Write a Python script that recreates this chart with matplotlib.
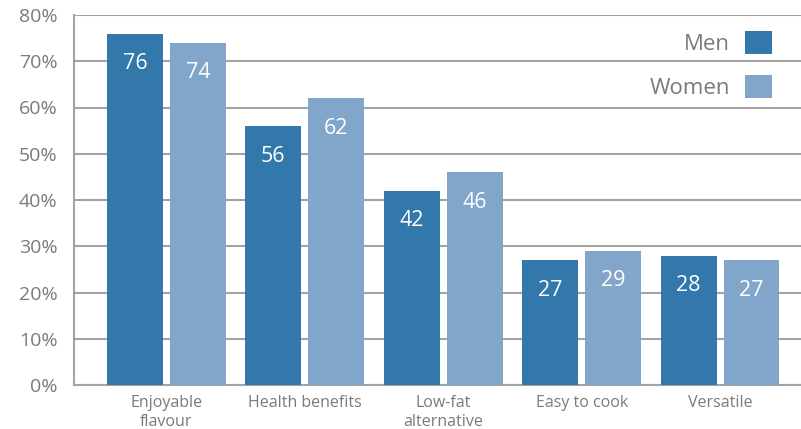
import matplotlib
matplotlib.use("Agg")
import matplotlib.pyplot as plt
import numpy as np

plt.rcParams['font.family'] = ['Open Sans', 'DejaVu Sans']

categories = ["Enjoyable\nflavour", "Health benefits", "Low-fat\nalternative", "Easy to cook", "Versatile"]
men = [76, 56, 42, 27, 28]
women = [74, 62, 46, 29, 27]
yticks = [0, 10, 20, 30, 40, 50, 60, 70, 80]

men_color = "#3378AB"
women_color = "#82A5CA"
grid_color = "#A3A3A3"
text_color = "#7A7A7A"

fig = plt.figure(figsize=(8.01, 4.29), dpi=100)
ax = fig.add_axes([74 / 801, 1 - 385 / 429, 1 - 74 / 801, (385 - 15) / 429])

x = np.arange(len(categories))
width = 0.404
offset = 0.2274

b1 = ax.bar(x - offset, men, width, color=men_color, label="Men", zorder=3)
b2 = ax.bar(x + offset, women, width, color=women_color, label="Women", zorder=3)

for bars, vals in ((b1, men), (b2, women)):
    for rect, v in zip(bars, vals):
        ax.annotate(f"{v}", (rect.get_x() + rect.get_width() / 2, v),
                    xytext=(0, -30), textcoords="offset pixels",
                    ha="center", va="center", color="white", fontsize=15.5, zorder=4)

ax.set_xlim(-0.668, 4.585)
ax.set_ylim(0, 80)
ax.set_yticks(yticks)
ax.set_yticklabels([f"{t}%" for t in yticks], fontsize=14, color=text_color)
ax.set_xticks(x)
ax.set_xticklabels(categories, fontsize=11.5, color=text_color, linespacing=1.3)
ax.tick_params(axis="both", length=0)
ax.tick_params(axis="y", pad=12)
ax.tick_params(axis="x", pad=7)

ax.yaxis.grid(True, color=grid_color, linewidth=1.5, zorder=0)
for side in ("top", "right"):
    ax.spines[side].set_visible(False)
for side in ("left", "bottom"):
    ax.spines[side].set_color(grid_color)
    ax.spines[side].set_linewidth(1.5)

leg = ax.legend(loc="upper right", bbox_to_anchor=(0.960, 0.957), frameon=False,
                fontsize=16, markerfirst=False, handlelength=1.2, handleheight=1.2,
                labelspacing=0.92, handletextpad=0.68, borderaxespad=0, borderpad=0)
for t in leg.get_texts():
    t.set_color(text_color)

fig.savefig("out.png", dpi=100)
